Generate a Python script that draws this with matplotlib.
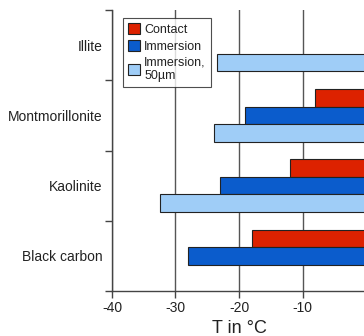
import matplotlib
matplotlib.use("Agg")
import matplotlib.pyplot as plt
import numpy as np

plt.rcParams['font.family'] = ['Liberation Sans', 'DejaVu Sans']

categories = ["Illite", "Montmorillonite", "Kaolinite", "Black carbon"]
series_names = ["Contact", "Immersion", "Immersion,\n50µm"]
contact = [np.nan, -8, -12, -18]
immersion = [np.nan, -19, -23, -28]
immersion_50 = [-23.5, -24, -32.5, np.nan]
colors = ["#dd2200", "#0b5ccc", "#9fcdf7"]
xticks = [-40, -30, -20, -10]

fig = plt.figure(figsize=(3.64, 3.36), dpi=100)
ax = fig.add_axes([112/364, 45/336, 254/364, 281/336])

y = np.arange(len(categories))
h = 0.25
for i, (vals, c, name) in enumerate(zip([contact, immersion, immersion_50], colors, series_names)):
    ax.barh(y + (i - 1) * h, vals, height=h, color=c, edgecolor="#222222",
            linewidth=0.8, label=name, zorder=3)

ax.set_xlim(-40, 0)
ax.set_ylim(3.5, -0.5)
ax.set_xticks(xticks)
ax.set_xticklabels([str(t) for t in xticks], fontsize=10, color="#222222")
ax.set_yticks(y)
ax.set_yticklabels(categories, fontsize=10, color="#222222")
ax.set_yticks(np.arange(-0.5, len(categories) + 0.5, 1), minor=True)
ax.tick_params(axis='y', which='major', length=0, pad=7)
ax.tick_params(axis='y', which='minor', length=5, width=1, color="#444444")
ax.tick_params(axis='x', length=5, width=1, color="#444444", pad=2)
for s in ["top", "right"]:
    ax.spines[s].set_visible(False)
for s in ["left", "bottom"]:
    ax.spines[s].set_color("#444444")
    ax.spines[s].set_linewidth(1)
ax.grid(axis='x', color="#555555", linewidth=1, zorder=0)
ax.set_axisbelow(True)
ax.set_xlabel("T in °C", fontsize=13, color="#222222", labelpad=4)

leg = ax.legend(loc="upper left", bbox_to_anchor=(0.043, 0.971), borderaxespad=0,
                fontsize=9, frameon=True, fancybox=False, edgecolor="#222222",
                handlelength=1.0, handleheight=1.0, handletextpad=0.3,
                labelspacing=0.3, borderpad=0.4)
leg.get_frame().set_linewidth(0.8)
for t in leg.get_texts():
    t.set_color("#222222")

fig.savefig("out.png", dpi=100)
